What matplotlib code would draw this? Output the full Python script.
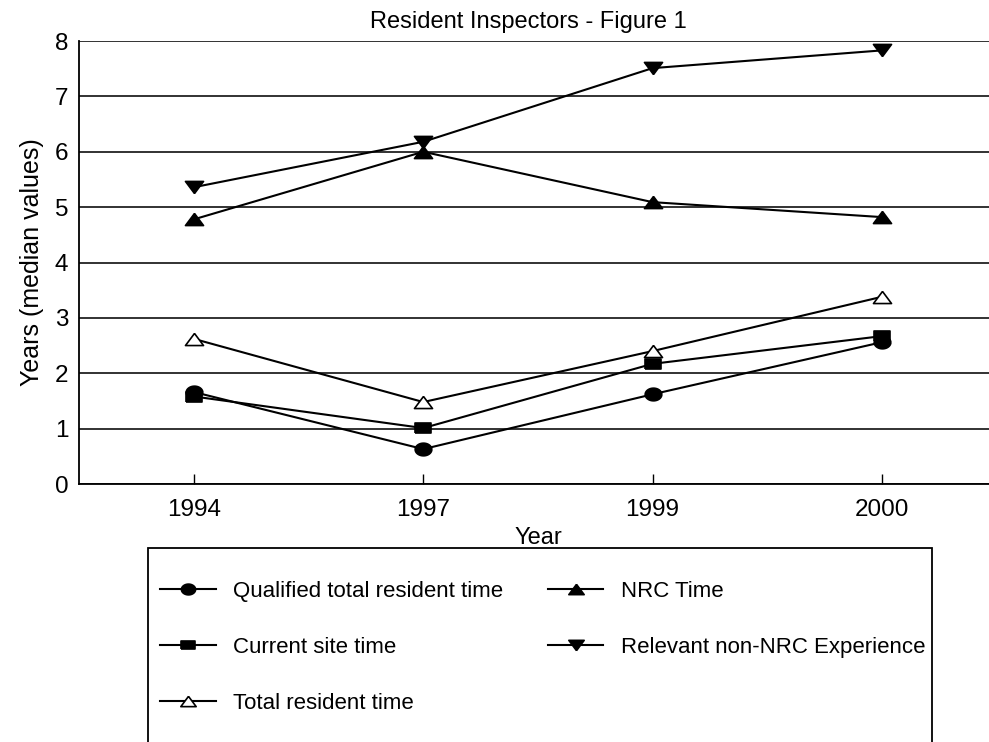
"""Resident Inspectors - Figure 1: median years by survey year."""

import matplotlib

matplotlib.use("Agg")
import matplotlib.pyplot as plt  # noqa: E402
import numpy as np  # noqa: E402
from matplotlib.patches import Rectangle  # noqa: E402

plt.rcParams["font.family"] = ["Liberation Sans", "DejaVu Sans"]

years = ["1994", "1997", "1999", "2000"]
qualified_total = [1.66, 0.63, 1.62, 2.56]
current_site = [1.58, 1.01, 2.17, 2.67]
total_resident = [2.62, 1.48, 2.40, 3.38]
nrc_time = [4.78, 6.00, 5.09, 4.82]
non_nrc = [5.36, 6.18, 7.51, 7.83]

# flattened marker shapes, like the original export
ellipse = [(np.cos(t), 0.76 * np.sin(t)) for t in np.linspace(0, 2 * np.pi, 40)]
rect = [(-1, -0.6), (1, -0.6), (1, 0.6), (-1, 0.6), (-1, -0.6)]
tri_up = [(0, 0.67), (-1, -0.67), (1, -0.67), (0, 0.67)]
tri_down = [(0, -0.67), (-1, 0.67), (1, 0.67), (0, -0.67)]

series = [
    ("Qualified total resident time", qualified_total, ellipse, "black", 12),
    ("Current site time", current_site, rect, "black", 12),
    ("Total resident time", total_resident, tri_up, "white", 13),
    ("NRC Time", nrc_time, tri_up, "black", 13),
    ("Relevant non-NRC Experience", non_nrc, tri_down, "black", 13),
]

W, H = 989, 742
fig = plt.figure(figsize=(W / 100, H / 100), dpi=100)
ax_left, ax_bottom = 79.4 / W, 1 - 484 / H
ax = fig.add_axes([ax_left, ax_bottom, 917 / W, 443 / H])

x = np.arange(len(years))
for label, vals, mk, face, ms in series:
    ax.plot(x, vals, color="black", lw=1.5, marker=mk, ms=ms,
            markerfacecolor=face, markeredgecolor="black", markeredgewidth=1.2,
            label=label, zorder=3, clip_on=False)

ax.set_xlim(-0.5, 3.5)
ax.set_ylim(0, 8)
ax.set_yticks(range(0, 9))
ax.set_xticks(x)
ax.set_xticklabels(years)
ax.yaxis.grid(True, color="#222222", lw=1.3)
ax.set_axisbelow(True)
ax.spines["top"].set_visible(False)
ax.spines["right"].set_visible(False)
for s in ("left", "bottom"):
    ax.spines[s].set_linewidth(1.3)
ax.tick_params(axis="x", direction="in", length=7, width=1, labelsize=17.5, pad=11)
ax.tick_params(axis="y", length=0, labelsize=17.5, pad=8)
ax.set_xlabel("Year", fontsize=17, labelpad=4)
ax.set_ylabel("Years (median values)", fontsize=18, labelpad=8)
fig.text(528 / W, 1 - 22 / H, "Resident Inspectors - Figure 1", fontsize=17,
         ha="center", va="center")

# legend box runs off the bottom of the page
fig.patches.append(Rectangle((148 / W, -0.05), (932 - 148) / W, (1 - 548 / H) + 0.05,
                             transform=fig.transFigure, fill=False,
                             edgecolor="black", lw=1.3))
fig.legend(loc="upper left", bbox_to_anchor=(160 / W, 1 - 581 / H), ncol=2,
           frameon=False, fontsize=16, handlelength=2.5, handletextpad=0.8,
           columnspacing=2.0, labelspacing=1.58, markerscale=0.85,
           borderaxespad=0, borderpad=0)

fig.savefig("out.png", dpi=100)
plt.close(fig)
